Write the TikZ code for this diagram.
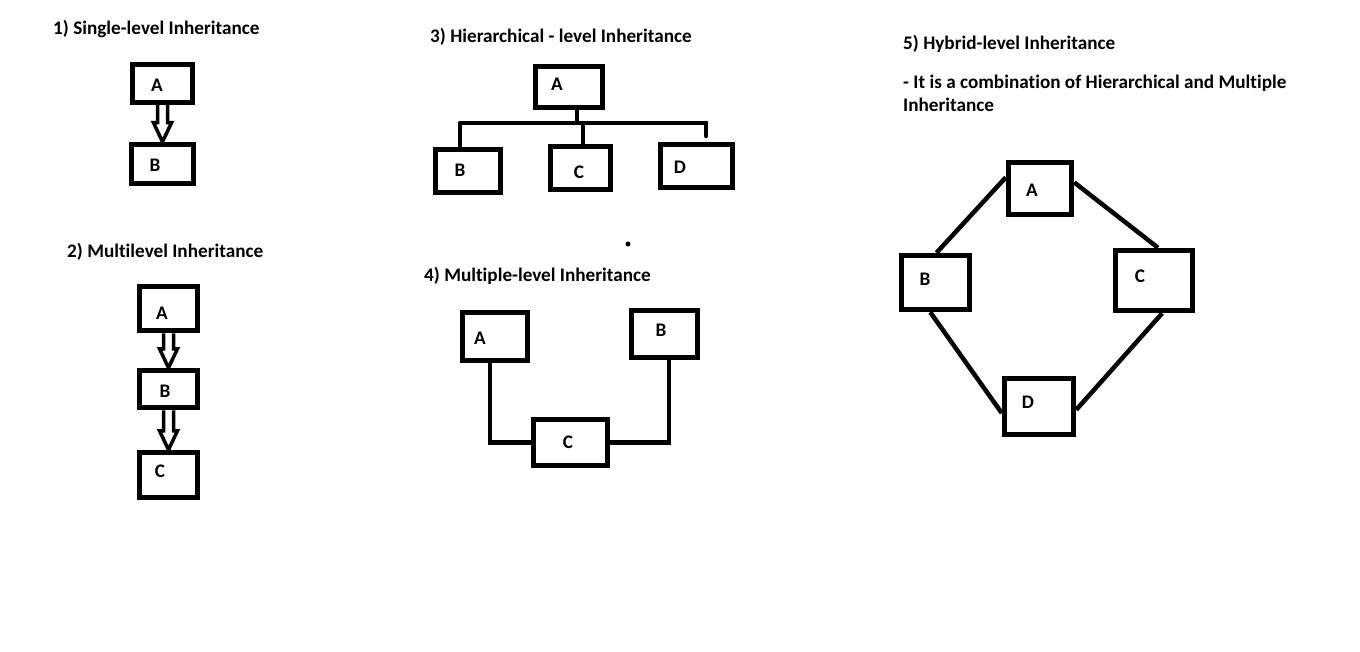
\documentclass[tikz,border=0pt]{standalone}
\usepackage{fontspec}
\setmainfont{Carlito}[Ligatures={NoCommon}]
\usetikzlibrary{calc}
\usetikzlibrary{positioning}

\tikzset{
  box/.style={draw, line width=5.5pt, inner sep=0pt},
  lbl/.style={font=\bfseries\fontsize{19.2}{23}\selectfont, inner sep=0pt},
  ttl/.style={lbl, anchor=west},
  link/.style={line width=4.5pt},
  hollow/.style={line width=3.5pt, line join=miter}
}
\newcommand{\hollowarrow}[2]{
\draw[hollow] ($(#1.south)+(-5,0)$) -- ($(#2.north)+(-5,-19)$) -- ++(-4,0) -- (#2.north)
  -- ++(9,-19) -- ++(-4,0) -- ($(#1.south)+(5,0)$);
}

\begin{document}
\begin{tikzpicture}[x=1pt, y=-1pt]
\useasboundingbox[fill=white] (0,0) rectangle (1360,652);

% 1) single level
\node[ttl] (t1) at (53,29) {1) Single-level Inheritance};
\node[box, minimum width=60, minimum height=38] (s1a) at (162.5,83.5) {};
\node[box, minimum width=62, minimum height=39] (s1b) at (162.5,164) {};
\node[lbl] (s1al) at (157,85) {A};
\node[lbl] (s1bl) at (155,165) {B};
\hollowarrow{s1a}{s1b}

% 2) multilevel
\node[ttl] (t2) at (67,252) {2) Multilevel Inheritance};
\node[box, minimum width=58, minimum height=44] (s2a) at (168.5,308.5) {};
\node[box, minimum width=58, minimum height=37] (s2b) at (168.5,389) {};
\node[box, minimum width=58, minimum height=45] (s2c) at (168.5,475) {};
\node[lbl] (s2al) at (162,313) {A};
\node[lbl] (s2bl) at (165,391) {B};
\node[lbl] (s2cl) at (160,471) {C};
\hollowarrow{s2a}{s2b}
\hollowarrow{s2b}{s2c}

% 3) hierarchical
\node[ttl] (t3) at (430,37) {3) Hierarchical - level Inheritance};
\node[box, minimum width=67, minimum height=41] (s3a) at (569,87) {};
\node[box, minimum width=65, minimum height=43] (s3b) at (468,171) {};
\node[box, minimum width=60, minimum height=43] (s3c) at (580.5,168) {};
\node[box, minimum width=72, minimum height=43] (s3d) at (696.5,166) {};
\node[lbl] (s3al) at (557,84) {A};
\node[lbl] (s3bl) at (460,170) {B};
\node[lbl] (s3cl) at (579,172) {C};
\node[lbl] (s3dl) at (680,167) {D};
\coordinate (bl) at (460,123);
\coordinate (br) at (706,123);
\draw[link] ([xshift=8pt]s3a.south) -- ([xshift=8pt]s3a.south |- bl);
\draw[link, line cap=round] (bl) -- (br);
\draw[link] (bl) -- (bl |- s3b.north);
\draw[link] ([xshift=2.5pt]s3c.north |- bl) -- ([xshift=2.5pt]s3c.north);
\draw[link, line cap=round] (br) -- ++(0,13);
\fill (628,244) circle (2.5);

% 4) multiple
\node[ttl] (t4) at (424,276) {4) Multiple-level Inheritance};
\node[box, minimum width=65, minimum height=48] (s4a) at (495,336.5) {};
\node[box, minimum width=66, minimum height=47] (s4b) at (664.5,334) {};
\node[box, minimum width=74, minimum height=46] (s4c) at (570.5,442.5) {};
\node[lbl] (s4al) at (480,338) {A};
\node[lbl] (s4bl) at (661,330) {B};
\node[lbl] (s4cl) at (568,442) {C};
\draw[link] ([xshift=-5pt]s4a.south) |- (s4c.west);
\draw[link] ([xshift=4.5pt]s4b.south) |- (s4c.east);

% 5) hybrid
\node[ttl] (t5) at (903,44) {5) Hybrid-level Inheritance};
\node[lbl, anchor=north west, align=left] (t6) at (903,75)
  {- It is a combination of Hierarchical and Multiple\\Inheritance};
\node[box, minimum width=63, minimum height=52] (s5a) at (1040,188.5) {};
\node[box, minimum width=68, minimum height=54] (s5b) at (935.5,282.5) {};
\node[box, minimum width=77, minimum height=60] (s5c) at (1154,280.5) {};
\node[box, minimum width=69, minimum height=56] (s5d) at (1039,406.5) {};
\node[lbl] (s5al) at (1032,190) {A};
\node[lbl] (s5bl) at (925,279) {B};
\node[lbl] (s5cl) at (1140,276) {C};
\node[lbl] (s5dl) at (1028,402) {D};
\draw[link] (s5b.88) -- (s5a.162);
\draw[link] (s5a.10) -- (s5c.83);
\draw[link] (s5b.260) -- (s5d.190);
\draw[link] (s5c.284) -- (s5d.355);
\end{tikzpicture}
\end{document}
